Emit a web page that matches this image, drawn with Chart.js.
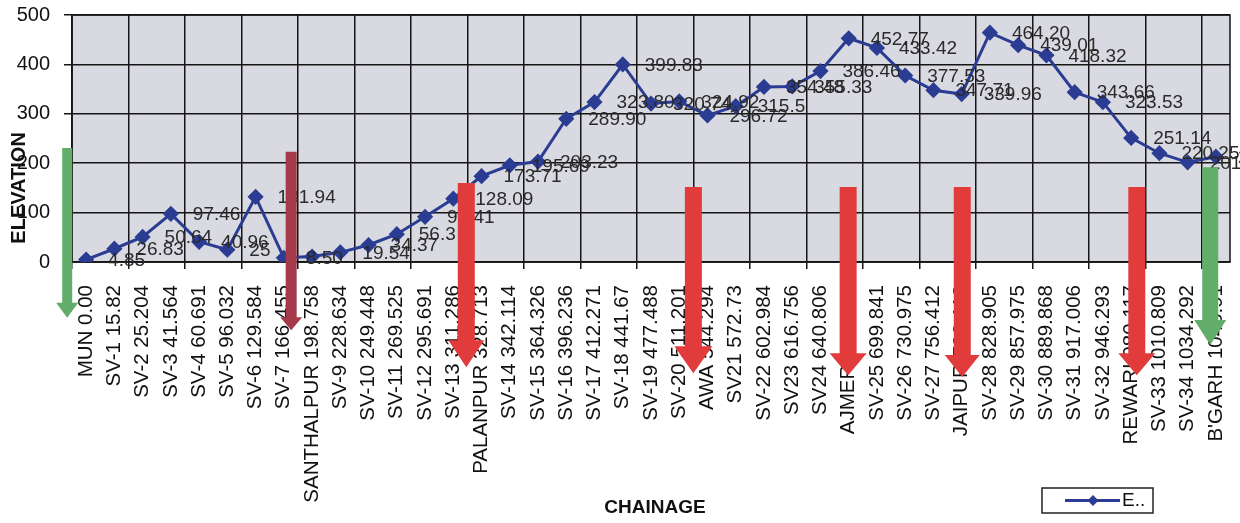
<!DOCTYPE html>
<html><head><meta charset="utf-8">
<script src="https://cdn.jsdelivr.net/npm/chart.js@4.4.1/dist/chart.umd.min.js"></script>
<style>html,body{margin:0;padding:0;background:#fff;}</style>
</head><body>
<canvas id="c" width="1240" height="523"></canvas>
<script>
const categories = ['MUN 0.00','SV-1 15.82','SV-2 25.204','SV-3 41.564','SV-4 60.691','SV-5 96.032','SV-6 129.584','SV-7 166.455','SANTHALPUR 198.758','SV-9 228.634','SV-10 249.448','SV-11 269.525','SV-12 295.691','SV-13 311.286','PALANPUR 328.713','SV-14 342.114','SV-15 364.326','SV-16 396.236','SV-17 412.271','SV-18 441.67','SV-19 477.488','SV-20 511.201','AWA 544.294','SV21 572.73','SV-22 602.984','SV23 616.756','SV24 640.806','AJMER 668.751','SV-25 699.841','SV-26 730.975','SV-27 756.412','JAIPUR 790.112','SV-28 828.905','SV-29 857.975','SV-30 889.868','SV-31 917.006','SV-32 946.293','REWARI 980.117','SV-33 1010.809','SV-34 1034.292',"B'GARH 1046.91"];
const elevation = [4.85,26.83,50.64,97.46,40.96,25,131.94,8.50,11,19.54,34.37,56.3,91.41,128.09,173.71,195.69,203.23,289.90,323.80,399.83,320.74,324.92,296.72,315.5,354.48,355.33,386.46,452.77,433.42,377.53,347.71,339.96,464.20,439.01,418.32,343.66,323.53,251.14,220.25,201.79,213.13];
const pointLabels = ['4.85','26.83','50.64','97.46','40.96','25','131.94','8.50','','19.54','34.37','56.3','91.41','128.09','173.71','195.69','203.23','289.90','323.80','399.83','320.74','324.92','296.72','315.5','354.48','355.33','386.46','452.77','433.42','377.53','347.71','339.96','464.20','439.01','418.32','343.66','323.53','251.14','220.25','201.79','213.13'];
const seriesName = 'E..';
const yAxisTitle = 'ELEVATION';
const xAxisTitle = 'CHAINAGE';
// annotation arrows: category position, value at top and at tip
const arrows = [
  {at:-0.67, from:231, to:-113, color:'#62ad6a', shaft:10, head:22, headLen:15},
  {at:7.26,  from:223, to:-138, color:'#a53a4b', shaft:11, head:22, headLen:13},
  {at:13.46, from:160, to:-213, color:'#e23b3b', shaft:17, head:36, headLen:27},
  {at:21.5,  from:152, to:-225, color:'#e23b3b', shaft:17, head:38, headLen:27},
  {at:26.98, from:152, to:-229, color:'#e23b3b', shaft:17, head:37, headLen:22},
  {at:31.02, from:152, to:-233, color:'#e23b3b', shaft:17, head:35, headLen:22},
  {at:37.2,  from:152, to:-229, color:'#e23b3b', shaft:17, head:37, headLen:22},
  {at:39.8,  from:192, to:-168, color:'#62ad6a', shaft:16, head:32, headLen:25}
];

const FONT = '"Liberation Sans", Arial, sans-serif';
Chart.defaults.font.family = FONT;
const LINE = '#2b3c93';
const GRID = '#151515';

const bgPlugin = {
  id: 'bg',
  beforeDraw(chart) {
    const {ctx, chartArea: a} = chart;
    ctx.save();
    ctx.fillStyle = '#ffffff';
    ctx.fillRect(0, 0, chart.width, chart.height);
    ctx.fillStyle = '#d9dae1';
    ctx.fillRect(a.left, a.top, a.right - a.left, a.bottom - a.top);
    ctx.restore();
  },
  beforeDatasetsDraw(chart) {
    const {ctx, chartArea: a} = chart;
    ctx.save();
    ctx.strokeStyle = GRID; ctx.lineWidth = 1.5;
    ctx.strokeRect(a.left, a.top, a.right - a.left, a.bottom - a.top);
    ctx.restore();
  }
};

const labelPlugin = {
  id: 'vlabels',
  afterDatasetsDraw(chart) {
    const ctx = chart.ctx; const meta = chart.getDatasetMeta(0);
    ctx.save();
    ctx.font = '19px ' + FONT; ctx.fillStyle = '#2a2a2a';
    ctx.textAlign = 'left'; ctx.textBaseline = 'middle';
    meta.data.forEach((pt, i) => {
      const t = pointLabels[i]; if (!t) return;
      ctx.fillText(t, pt.x + 22, pt.y + 1);
    });
    ctx.restore();
  }
};

function drawArrow(ctx, x, yTop, yTip, sw, hw, hl, color) {
  ctx.fillStyle = color;
  ctx.beginPath();
  ctx.moveTo(x - sw/2, yTop); ctx.lineTo(x + sw/2, yTop);
  ctx.lineTo(x + sw/2, yTip - hl); ctx.lineTo(x + hw/2, yTip - hl);
  ctx.lineTo(x, yTip); ctx.lineTo(x - hw/2, yTip - hl);
  ctx.lineTo(x - sw/2, yTip - hl); ctx.closePath(); ctx.fill();
}

const overlayPlugin = {
  id: 'overlay',
  afterDraw(chart) {
    const {ctx, chartArea: a, scales: {x, y}} = chart;
    ctx.save();
    arrows.forEach(r => {
      drawArrow(ctx, x.getPixelForValue(r.at), y.getPixelForValue(r.from), y.getPixelForValue(r.to), r.shaft, r.head, r.headLen, r.color);
    });
    ctx.fillStyle = '#111';
    ctx.font = 'bold 20px ' + FONT;
    ctx.textAlign = 'center'; ctx.textBaseline = 'middle';
    ctx.save();
    ctx.translate(a.left - 53, a.top + (a.bottom - a.top) * 0.70);
    ctx.rotate(-Math.PI / 2);
    ctx.fillText(yAxisTitle, 0, 0);
    ctx.restore();
    ctx.font = 'bold 19px ' + FONT;
    ctx.fillText(xAxisTitle, (a.left + a.right) / 2 + 4, chart.height - 15);
    const lx = a.right - 188, ly = chart.height - 35;
    ctx.strokeStyle = '#222'; ctx.lineWidth = 1.5;
    ctx.strokeRect(lx, ly, 111, 25);
    ctx.strokeStyle = LINE; ctx.lineWidth = 3;
    ctx.beginPath(); ctx.moveTo(lx + 23, ly + 12.5); ctx.lineTo(lx + 78, ly + 12.5); ctx.stroke();
    ctx.fillStyle = LINE;
    ctx.beginPath(); ctx.moveTo(lx + 51, ly + 7); ctx.lineTo(lx + 56.5, ly + 12.5); ctx.lineTo(lx + 51, ly + 18); ctx.lineTo(lx + 45.5, ly + 12.5); ctx.closePath(); ctx.fill();
    ctx.fillStyle = '#111'; ctx.font = '19px ' + FONT; ctx.textAlign = 'left';
    ctx.fillText(seriesName, lx + 80, ly + 13);
    ctx.restore();
  }
};

new Chart(document.getElementById('c'), {
  type: 'line',
  data: {
    labels: categories,
    datasets: [{
      label: seriesName,
      data: elevation,
      borderColor: LINE,
      backgroundColor: LINE,
      borderWidth: 3,
      pointStyle: 'rectRot',
      pointRadius: 6,
      pointBackgroundColor: LINE,
      pointBorderColor: LINE,
      tension: 0,
      fill: false
    }]
  },
  options: {
    responsive: false,
    animation: false,
    devicePixelRatio: 1,
    layout: {padding: {left: 16, right: 10, top: 15, bottom: 0}},
    plugins: {legend: {display: false}, tooltip: {enabled: false}},
    scales: {
      x: {
        offset: true,
        afterFit: s => { s.height = 261; s.paddingLeft = 0; s.paddingRight = 0; },
        grid: {
          offset: true,
          color: c => (c.index % 2 === 0 ? GRID : 'rgba(0,0,0,0)'),
          lineWidth: 1.5,
          tickLength: 7
        },
        border: {display: true, color: GRID, width: 1.5},
        ticks: {autoSkip: false, minRotation: 90, maxRotation: 90, padding: 16, color: '#111', font: {size: 20.5}}
      },
      y: {
        min: 0, max: 500,
        afterFit: s => { s.width = 56; s.paddingTop = 0; s.paddingBottom = 0; },
        grid: {color: GRID, lineWidth: 1.5, tickLength: 8},
        border: {display: true, color: GRID, width: 1.5},
        ticks: {stepSize: 50, padding: 14, color: '#111', font: {size: 20}}
      }
    }
  },
  plugins: [bgPlugin, labelPlugin, overlayPlugin]
});
</script>
</body></html>
